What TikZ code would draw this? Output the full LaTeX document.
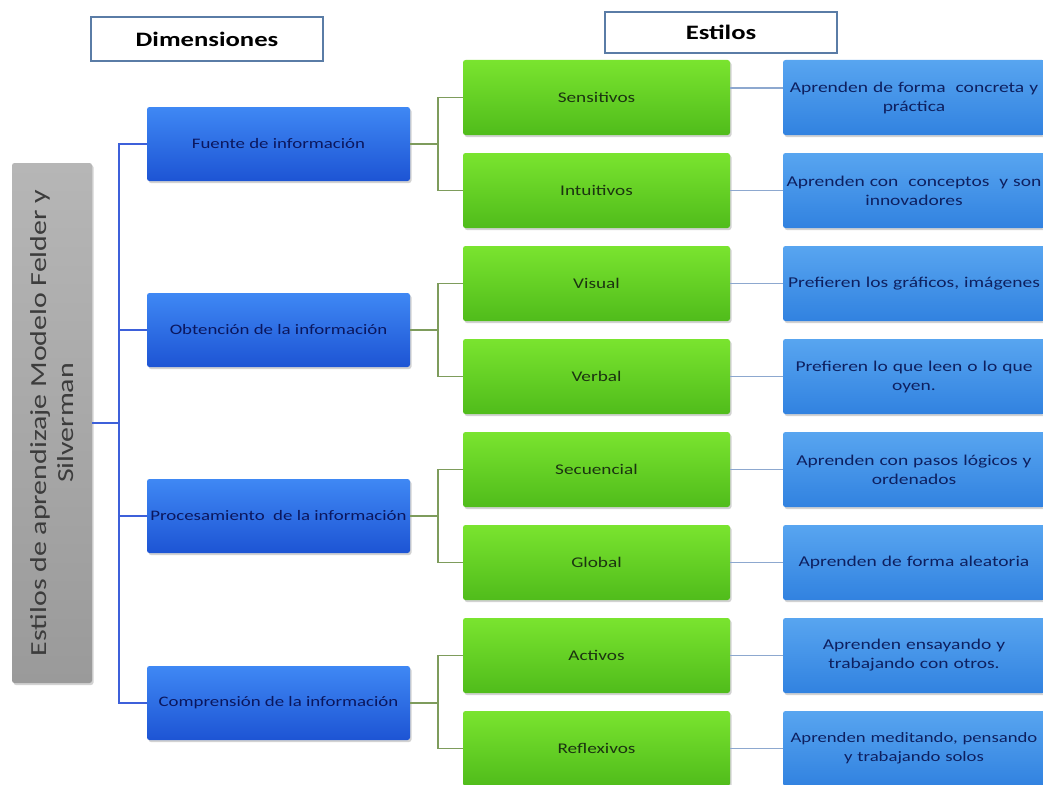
\documentclass[tikz,border=0pt]{standalone}
\usepackage{fontspec}
\setmainfont{Carlito}[FakeStretch=1.3]
\usetikzlibrary{shadows}

% palette
\definecolor{dimTop}{HTML}{3F88F4}
\definecolor{dimBot}{HTML}{1D54D4}
\definecolor{dimText}{HTML}{0B175E}
\definecolor{grnTop}{HTML}{7AE42F}
\definecolor{grnBot}{HTML}{50BC1B}
\definecolor{grnText}{HTML}{1B3410}
\definecolor{dscTop}{HTML}{58A5F0}
\definecolor{dscBot}{HTML}{3182E0}
\definecolor{dscText}{HTML}{0E2060}
\definecolor{rootTop}{HTML}{B6B6B6}
\definecolor{rootBot}{HTML}{9A9A9A}
\definecolor{rootText}{HTML}{3C3C3C}
\definecolor{rootLine}{HTML}{3D60DA}
\definecolor{grnLine}{HTML}{7E9C5C}
\definecolor{dscLine}{HTML}{8DA8CF}
\definecolor{headLine}{HTML}{5A7CA6}

% one unbreakable line of a description box
\newcommand{\oneline}[1]{\mbox{#1}}

\begin{document}
\begin{tikzpicture}[x=1pt,y=-1pt,
  box/.style={rounded corners=2.5pt, inner sep=2pt, align=center,
    drop shadow={opacity=0.35, shadow xshift=1.5pt, shadow yshift=-2pt}},
  headbox/.style={draw=headLine, line width=1.2pt, fill=white, text=black,
    minimum width=232pt, font=\fontsize{20.5}{24}\selectfont\bfseries},
  rootbox/.style={box, minimum width=80pt, minimum height=520pt,
    top color=rootTop, bottom color=rootBot},
  roottext/.style={rotate=90, align=center, text=rootText,
    font=\fontsize{23}{27}\selectfont},
  dimbox/.style={box, minimum width=263pt, minimum height=74pt,
    top color=dimTop, bottom color=dimBot, text=dimText,
    font=\fontsize{14.5}{18}\selectfont},
  stylebox/.style={box, minimum width=267pt, minimum height=75pt,
    top color=grnTop, bottom color=grnBot, text=grnText,
    font=\fontsize{14.8}{18}\selectfont},
  descbox/.style={box, text width=258pt, minimum height=75pt,
    top color=dscTop, bottom color=dscBot, text=dscText,
    font=\fontsize{15}{19}\selectfont},
  rootlink/.style={draw=rootLine, line width=1.4pt},
  grnlink/.style={draw=grnLine, line width=1.1pt},
  dsclink/.style={draw=dscLine, line width=1.1pt}
]
\useasboundingbox (0,0) rectangle (1043,784);
\clip (0,0) rectangle (1043,784);
\fill[white] (0,0) rectangle (1043,784);

% column headings
\node[headbox, minimum height=44pt] (hdim) at (207,39) {Dimensiones};
\node[headbox, minimum height=41pt] (hsty) at (721,32.5) {Estilos};

% root
\node[rootbox] (root) at (52,423) {};
\node[roottext] (rootlabel) at (root.center) {Estilos de aprendizaje Modelo Felder y\\Silverman};

% dimensions
\node[dimbox] (dim1) at (278.5,144) {Fuente de información};
\node[dimbox] (dim2) at (278.5,330) {Obtención de la información};
\node[dimbox] (dim3) at (278.5,516) {Procesamiento\ \ de la información};
\node[dimbox] (dim4) at (278.5,703) {Comprensión de la información};

% styles
\node[stylebox] (s1) at (596.5,97.5)  {Sensitivos};
\node[stylebox] (s2) at (596.5,190.5) {Intuitivos};
\node[stylebox] (s3) at (596.5,283.5) {Visual};
\node[stylebox] (s4) at (596.5,376.5) {Verbal};
\node[stylebox] (s5) at (596.5,469.5) {Secuencial};
\node[stylebox] (s6) at (596.5,562.5) {Global};
\node[stylebox] (s7) at (596.5,655.5) {Activos};
\node[stylebox] (s8) at (596.5,748.5) {Reflexivos};

% descriptions
\node[descbox] (d1) at (914,97.5)  {\oneline{Aprenden de forma\ \ concreta y}\\\oneline{práctica}};
\node[descbox] (d2) at (914,190.5) {\oneline{Aprenden con\ \ conceptos\ \ y son}\\\oneline{innovadores}};
\node[descbox] (d3) at (914,283.5) {\oneline{Prefieren los gráficos, imágenes}};
\node[descbox] (d4) at (914,376.5) {\oneline{Prefieren lo que leen o lo que}\\\oneline{oyen.}};
\node[descbox] (d5) at (914,469.5) {\oneline{Aprenden con pasos lógicos y}\\\oneline{ordenados}};
\node[descbox] (d6) at (914,562.5) {\oneline{Aprenden de forma aleatoria}};
\node[descbox] (d7) at (914,655.5) {\oneline{Aprenden ensayando y}\\\oneline{trabajando con otros.}};
\node[descbox, font=\fontsize{14.4}{19}\selectfont] (d8) at (914,748.5)
  {\oneline{Aprenden\ meditando, pensando}\\\oneline{y trabajando solos}};

% junction points of the bracket connectors
\coordinate (rj) at (119,423);
\coordinate (j1) at (438,144);
\coordinate (j2) at (438,330);
\coordinate (j3) at (438,516);
\coordinate (j4) at (438,703);

% root to dimensions
\path[rootlink] (root.east) -- (rj);
\path[rootlink] (dim1.west) -| (rj) -- (rj |- dim4.west) -- (dim4.west);
\path[rootlink] (dim2.west) -- (rj |- dim2.west);
\path[rootlink] (dim3.west) -- (rj |- dim3.west);

% dimensions to styles
\path[grnlink] (dim1.east) -- (j1) (s1.west) -| (j1) (s2.west) -| (j1);
\path[grnlink] (dim2.east) -- (j2) (s3.west) -| (j2) (s4.west) -| (j2);
\path[grnlink] (dim3.east) -- (j3) (s5.west) -| (j3) (s6.west) -| (j3);
\path[grnlink] (dim4.east) -- (j4) (s7.west) -| (j4) (s8.west) -| (j4);

% styles to descriptions
\path[dsclink] ([yshift=9.5pt]s1.east) -- ([yshift=9.5pt]d1.west);
\path[dsclink] (s2) -- (d2);
\path[dsclink] (s3) -- (d3);
\path[dsclink] (s4) -- (d4);
\path[dsclink] (s5) -- (d5);
\path[dsclink] (s6) -- (d6);
\path[dsclink] (s7) -- (d7);
\path[dsclink] (s8) -- (d8);
\end{tikzpicture}
\end{document}
